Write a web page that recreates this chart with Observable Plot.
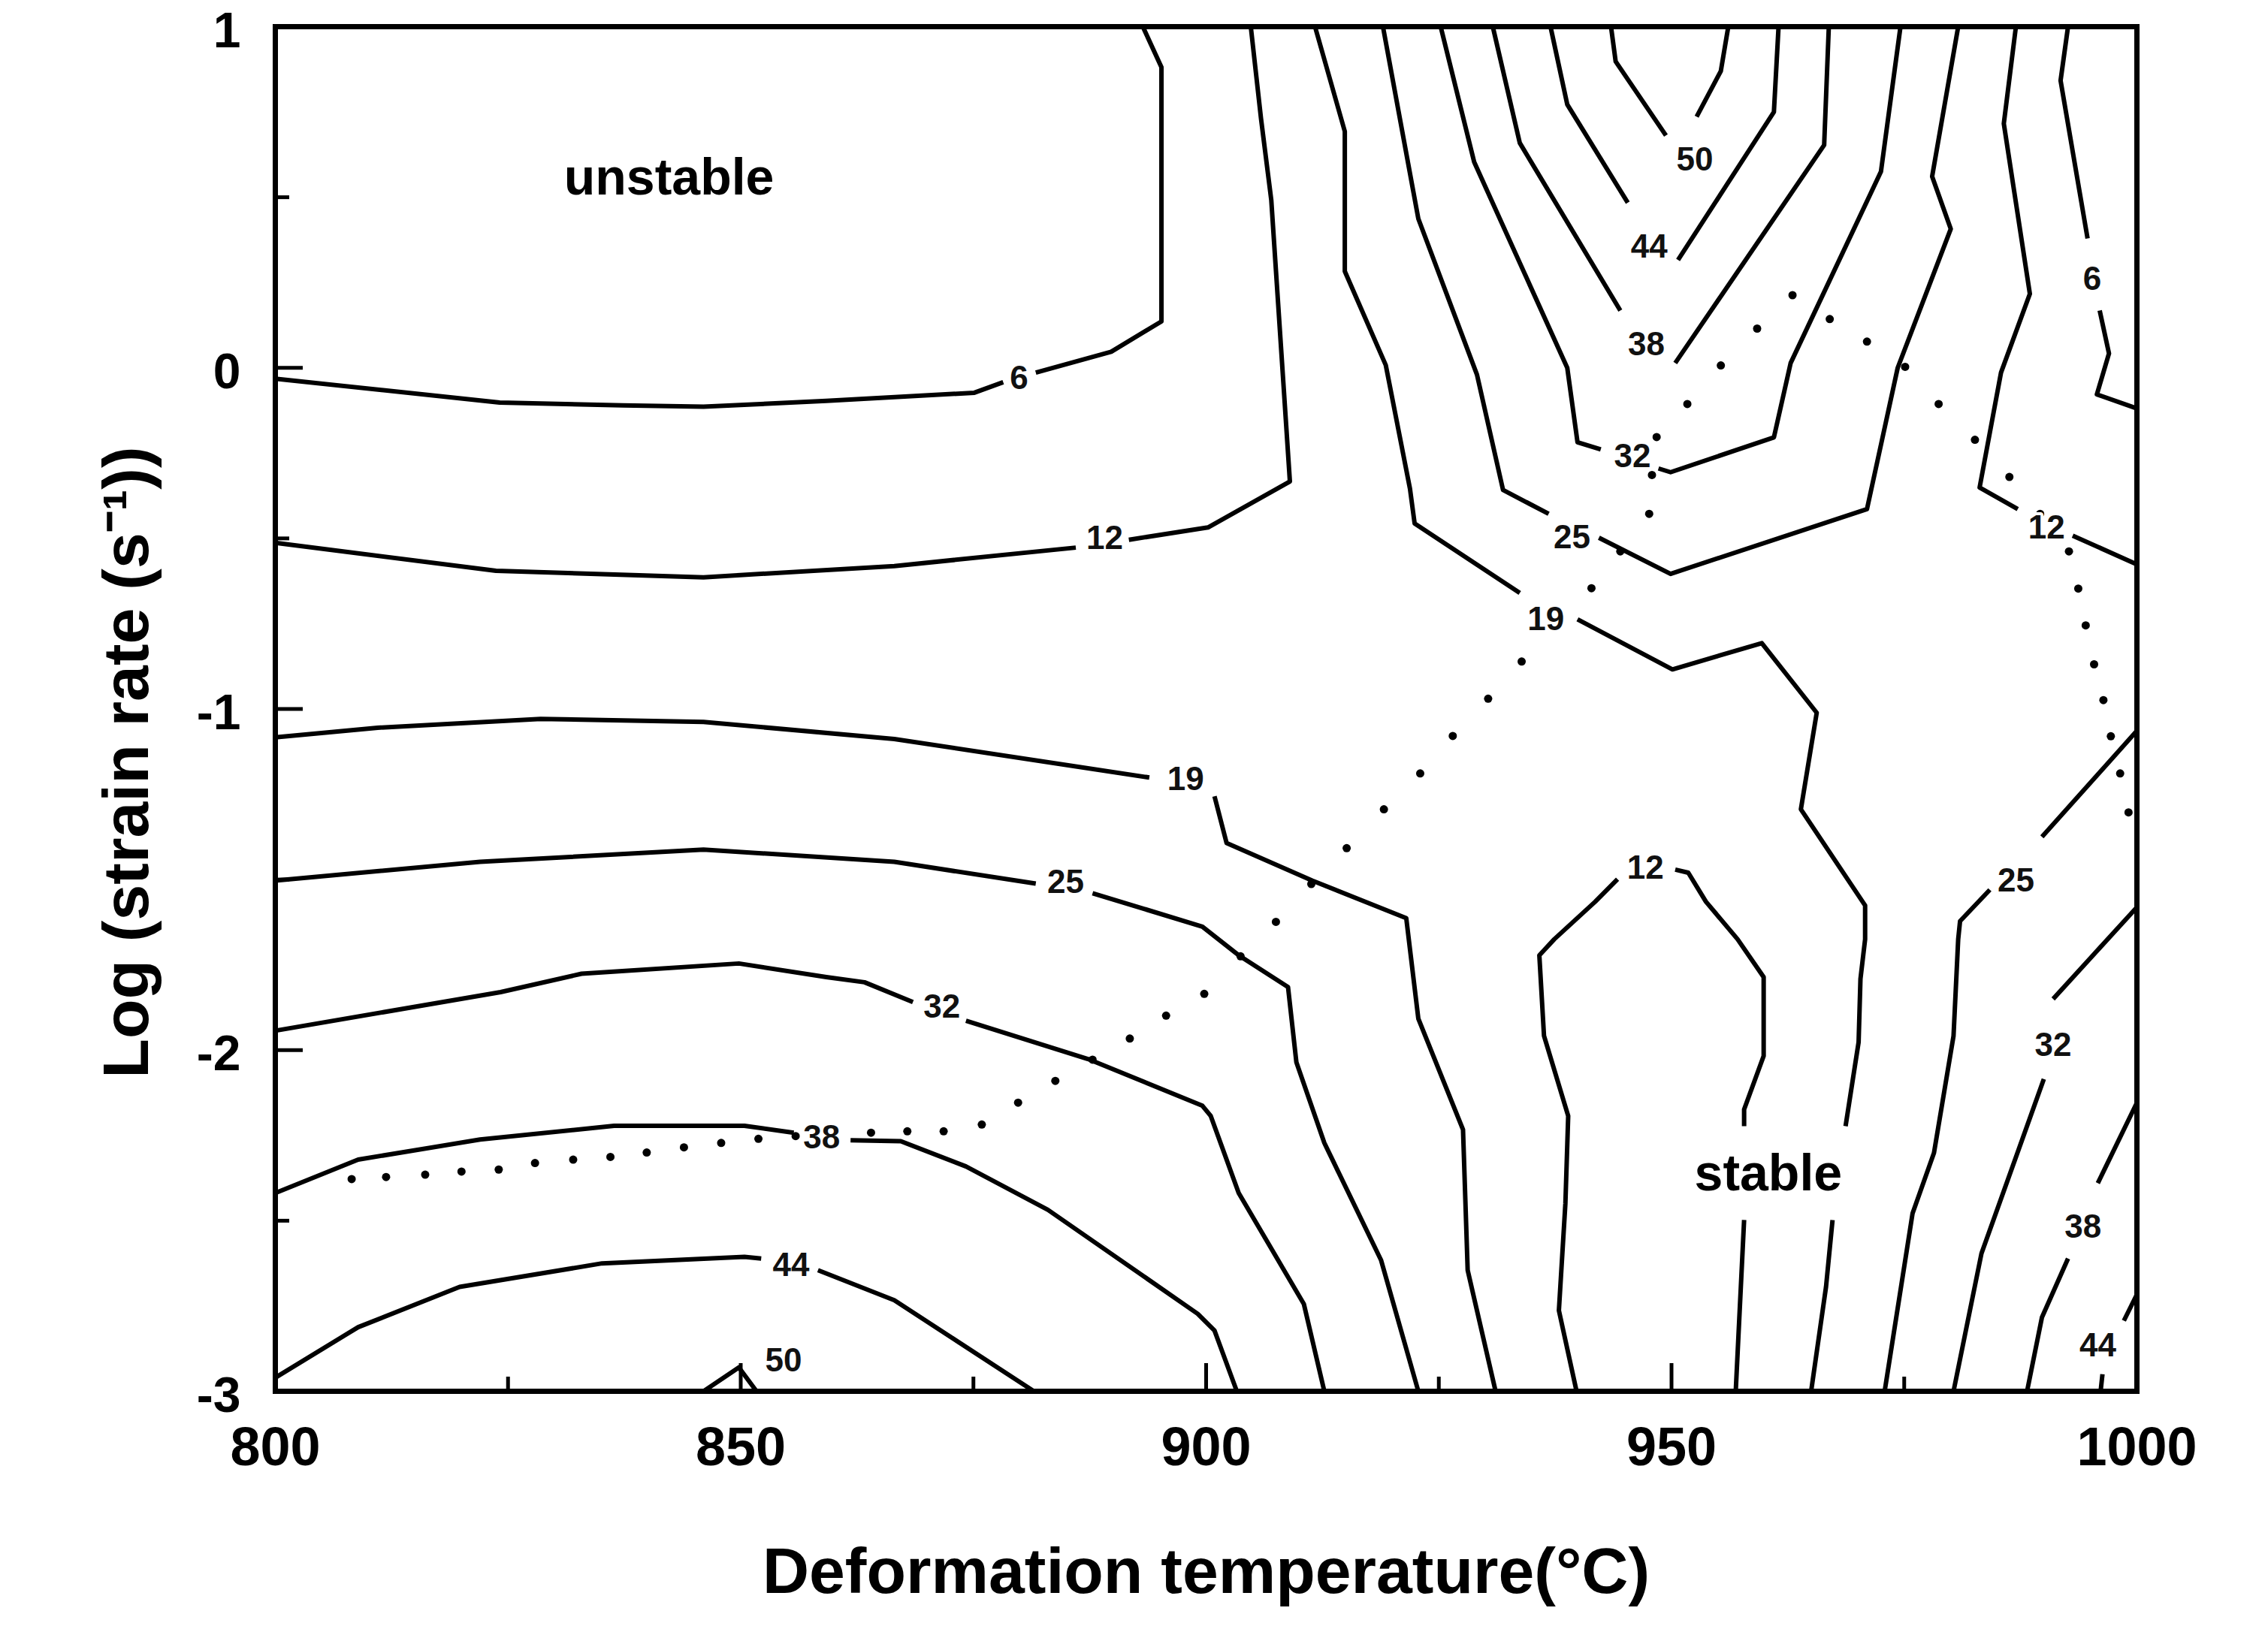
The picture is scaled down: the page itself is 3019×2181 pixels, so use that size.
<!DOCTYPE html>
<html>
<head>
<meta charset="utf-8">
<script src="https://cdn.jsdelivr.net/npm/d3@7"></script>
<script src="https://cdn.jsdelivr.net/npm/@observablehq/plot@0.6"></script>
<style>
  html, body { margin: 0; padding: 0; background: #fff; }
  #chart svg { display: block; }
</style>
</head>
<body>
<div id="chart"></div>
<script>
// ---- axis ticks ----
const xMajor = [800, 850, 900, 950, 1000];
const xMinor = [825, 875, 925, 975];
const yMajor = [1, 0, -1, -2, -3];
const yMinor = [0.5, -0.5, -1.5, -2.5];

// ---- contour polylines: [temperature °C, log strain rate]; null = break ----
const c6L  = [[800,-0.032],[824.1,-0.102],[837.3,-0.110],[846,-0.114],[859.2,-0.097],[875.1,-0.073],[878.2,-0.042],null,[881.7,-0.014],[889.8,0.047],[895.2,0.136],[895.2,0.881],[893.2,1]];
const c12L = [[800,-0.513],[823.7,-0.595],[846,-0.614],[866.5,-0.581],[886,-0.527],null,[891.7,-0.504],[900.2,-0.468],[909,-0.333],[907,0.492],[905.9,0.730],[904.8,1]];
const c19L = [[800,-1.083],[811,-1.055],[828.5,-1.029],[846,-1.038],[866.5,-1.088],[893.9,-1.201],null,[900.9,-1.256],[902.2,-1.393],[911.4,-1.503],[921.5,-1.613],[922.8,-1.908],[927.6,-2.233],[928.1,-2.645],[931.1,-3]];
const c25L = [[800,-1.503],[822,-1.448],[846,-1.412],[866.5,-1.448],[881.7,-1.512],null,[887.8,-1.540],[899.6,-1.638],[903.5,-1.722],[908.8,-1.815],[909.7,-2.036],[912.7,-2.272],[918.8,-2.616],[922.8,-3]];
const c32L = [[800,-1.943],[824.2,-1.830],[832.9,-1.776],[849.8,-1.746],[859.2,-1.786],[863.3,-1.801],[868.5,-1.859],null,[874.2,-1.914],[887.3,-2.026],[899.6,-2.163],[900.5,-2.193],[903.5,-2.419],[910.5,-2.744],[912.7,-3]];
const c38L = [[800,-2.419],[808.9,-2.321],[822,-2.262],[836.4,-2.222],[850.4,-2.222],[855.7,-2.242],null,[861.8,-2.264],[867.2,-2.267],[874.2,-2.341],[883,-2.468],[899.1,-2.773],[900.9,-2.822],[903.3,-3]];
const c44L = [[800,-2.96],[808.9,-2.812],[819.8,-2.694],[835.1,-2.625],[850.4,-2.606],[852.2,-2.611],null,[858.3,-2.645],[866.5,-2.733],[881.5,-3]];
const c50B = [[846,-3],[849.8,-2.930],[851.7,-3]];

const c19U = [[911.7,1],[914.9,0.693],[914.9,0.283],[919.3,0.008],[921.9,-0.354],[922.4,-0.456],[933.7,-0.660],null,[939.9,-0.737],[950.1,-0.884],[959.7,-0.807],[965.6,-1.011],[963.9,-1.294],[970.8,-1.576],[970.8,-1.675],[970.3,-1.791],[970.1,-1.977],[968.7,-2.223],null,[967.3,-2.498],[966.6,-2.694],[965,-3]];
const c25U = [[919,1],[922.8,0.437],[929.1,-0.02],[931.9,-0.358],[936.8,-0.428],null,[942.2,-0.498],[949.9,-0.604],[971,-0.414],[974.3,0],[980,0.407],[978,0.561],[980.8,1]];
const c32U = [[925.2,1],[928.8,0.603],[938.8,0],[939.9,-0.218],[942.4,-0.239],null,[948.6,-0.295],[949.9,-0.306],[961,-0.204],[962.8,0.014],[972.5,0.575],[974.6,1]];
const c38U = [[930.8,1],[933.7,0.659],[944.5,0.168],null,[950.4,0.014],[966.4,0.653],[966.9,1]];
const c44U = [[937,1],[938.8,0.772],[945.3,0.484],null,[950.7,0.316],[961,0.750],[961.5,1]];
const c50U = [[943.5,1],[944,0.898],[949.4,0.681],null,[952.7,0.736],[955.3,0.870],[956.1,1]];

const c12R = [[987,1],[985.7,0.716],[988.5,0.217],[985.4,-0.014],[983.1,-0.351],[987.2,-0.414],null,[993.1,-0.492],[1000,-0.576]];
const c6R  = [[992.6,1],[991.8,0.842],[994.7,0.379],null,[996,0.168],[997,0.042],[995.7,-0.078],[1000,-0.119]];
const c12I = [[939.8,-3],[937.9,-2.763],[938.6,-2.449],[938.9,-2.193],[936.3,-1.958],[935.8,-1.722],[937.4,-1.675],[941.8,-1.565],[944.2,-1.499],null,[950.4,-1.471],[951.8,-1.480],[953.7,-1.565],[957.1,-1.675],[959.9,-1.786],[959.9,-2.017],[957.8,-2.174],[957.8,-2.223],null,[957.8,-2.498],[956.9,-3]];
const c25R = [[1000,-1.064],[989.8,-1.375],null,[984.2,-1.530],[981,-1.622],[980.8,-1.675],[980.3,-1.958],[978.2,-2.301],[975.9,-2.478],[972.9,-3]];
const c32R = [[1000,-1.581],[991,-1.850],null,[990,-2.085],[983.3,-2.596],[980.3,-3]];
const c38R = [[1000,-2.154],[995.8,-2.390],null,[992.6,-2.611],[989.8,-2.783],[988.2,-3]];
const c44R = [[1000,-2.716],[998.6,-2.793],null,[996.3,-2.950],[996.1,-3]];

// ---- contour labels (value, temperature, log strain rate) ----
const contourLabels = [
  {v: 6,  T: 879.9, L: -0.032}, {v: 12, T: 889.1, L: -0.500}, {v: 19, T: 897.8, L: -1.206},
  {v: 25, T: 884.9, L: -1.508}, {v: 32, T: 871.6, L: -1.874}, {v: 38, T: 858.7, L: -2.257},
  {v: 44, T: 855.4, L: -2.630}, {v: 50, T: 854.6, L: -2.911},
  {v: 50, T: 952.5, L: 0.610},  {v: 44, T: 947.6, L: 0.353},  {v: 38, T: 947.3, L: 0.067},
  {v: 32, T: 945.8, L: -0.260}, {v: 25, T: 939.3, L: -0.498}, {v: 19, T: 936.5, L: -0.737},
  {v: 12, T: 990.3, L: -0.470}, {v: 6,  T: 995.2, L: 0.259},  {v: 12, T: 947.2, L: -1.467},
  {v: 25, T: 987.0, L: -1.503}, {v: 32, T: 991.0, L: -1.987}, {v: 38, T: 994.2, L: -2.518},
  {v: 44, T: 995.8, L: -2.867}
];

// ---- instability boundary (dotted) ----
const boundary = [[808.2,-2.378],[811.9,-2.372],[816.1,-2.365],[820,-2.356],[824,-2.350],[827.9,-2.331],[832,-2.321],[836,-2.313],[839.9,-2.300],[843.9,-2.285],[847.9,-2.272],[851.9,-2.260],[855.9,-2.252],[864,-2.242],[867.9,-2.238],[871.8,-2.238],[875.9,-2.218],[879.8,-2.154],[883.8,-2.090],[887.8,-2.028],[891.8,-1.966],[895.7,-1.899],[899.8,-1.835],[903.7,-1.725],[907.5,-1.624],[911.3,-1.513],[915.1,-1.408],[919.1,-1.294],[923,-1.189],[926.5,-1.079],[930.3,-0.970],[933.9,-0.861],[937.7,-0.750],[941.4,-0.646],[944.5,-0.538],[947.6,-0.428],[947.9,-0.314],[948.4,-0.203],[951.7,-0.106],[955.3,0.007],[959.2,0.115],[963,0.213],[967,0.143],[971,0.077],[975.1,0.003],[978.7,-0.106],[982.6,-0.211],[986.3,-0.320],[989.6,-0.428],[992.7,-0.538],[993.7,-0.647],[994.5,-0.755],[995.4,-0.869],[996.4,-0.974],[997.2,-1.080],[998.2,-1.189],[999.1,-1.303]];

// ---- region annotations ----
const regions = [{text: "unstable", T: 842.3, L: 0.555}, {text: "stable", T: 960.4, L: -2.364}];

// ---- assemble line rows (NaN breaks the line) ----
const contours = [c6L, c12L, c19L, c25L, c32L, c38L, c44L, c50B, c19U, c25U, c32U, c38U, c44U, c50U, c12R, c6R, c12I, c25R, c32R, c38R, c44R];
const rows = [];
contours.forEach((c, i) => c.forEach(p => rows.push(p ? {id: i, T: p[0], L: p[1]} : {id: i, T: NaN, L: NaN})));

const W = 3019, H = 2181;
const mL = 366, mR = 175, mT = 35, mB = 329;
const plotW = W - mL - mR, plotH = H - mT - mB;
const font = "'Liberation Sans', Arial, Helvetica, sans-serif";

const chart = Plot.plot({
  width: W, height: H,
  marginLeft: mL, marginRight: mR, marginTop: mT, marginBottom: mB,
  x: {domain: [800, 1000], axis: null},
  y: {domain: [-3, 1], axis: null},
  style: {fontFamily: font, background: "#fff", color: "#000"},
  marks: [
    Plot.line(rows, {x: "T", y: "L", z: "id", stroke: "#000", strokeWidth: 6, strokeLinejoin: "round", strokeLinecap: "butt"}),
    Plot.dot(boundary, {x: d => d[0], y: d => d[1], r: 5.5, fill: "#000", stroke: null}),
    Plot.text(contourLabels, {x: "T", y: "L", text: d => String(d.v), fontSize: 44, fontWeight: "bold",
      fill: "#111", stroke: "#fff", strokeWidth: 8, lineAnchor: "middle", textAnchor: "middle"}),
    Plot.text(regions, {x: "T", y: "L", text: "text", fontSize: 68, fontWeight: "bold", fill: "#000",
      lineAnchor: "middle", textAnchor: "middle"}),
    // inward ticks
    Plot.tickX(xMajor, {x: d => d, insetTop: plotH - 37, stroke: "#000", strokeWidth: 5}),
    Plot.tickX(xMinor, {x: d => d, insetTop: plotH - 19, stroke: "#000", strokeWidth: 5}),
    Plot.tickY(yMajor, {y: d => d, insetRight: plotW - 37, stroke: "#000", strokeWidth: 5}),
    Plot.tickY(yMinor, {y: d => d, insetRight: plotW - 19, stroke: "#000", strokeWidth: 5}),
    Plot.frame({stroke: "#000", strokeWidth: 7}),
    // tick labels
    Plot.text(xMajor, {x: d => d, frameAnchor: "bottom", dy: 75, text: d => String(d), fontSize: 72,
      fontWeight: "bold", lineAnchor: "middle", fill: "#000"}),
    Plot.text(yMajor, {y: d => d, frameAnchor: "left", dx: -46, dy: 6, text: d => String(d), fontSize: 66,
      fontWeight: "bold", textAnchor: "end", lineAnchor: "middle", fill: "#000"}),
    // axis titles
    Plot.text(["Deformation temperature(°C)"], {frameAnchor: "bottom", dy: 241, text: d => d, fontSize: 86,
      fontWeight: "bold", lineAnchor: "middle", fill: "#000"}),
    Plot.text(["Log (strain rate (s⁻¹))"], {frameAnchor: "left", dx: -197, dy: 71, rotate: -90, text: d => d,
      fontSize: 86, fontWeight: "bold", lineAnchor: "middle", textAnchor: "middle", fill: "#000"})
  ]
});
document.getElementById("chart").appendChild(chart);
</script>
</body>
</html>
